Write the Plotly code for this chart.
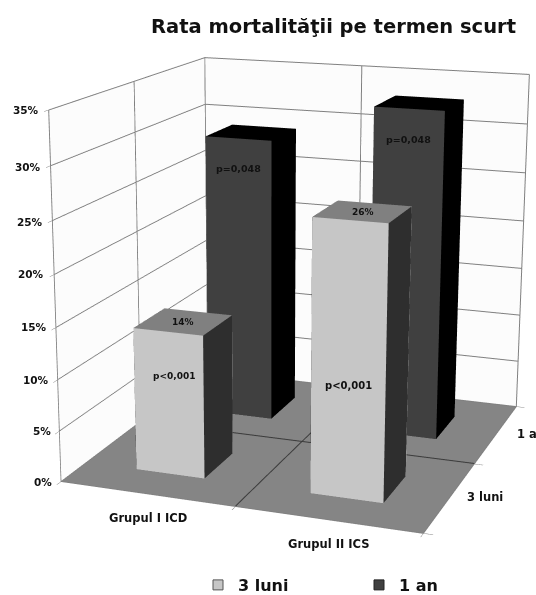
import plotly.graph_objects as go

# Chart content
groups = ["Grupul I ICD", "Grupul II ICS"]
series = ["3 luni", "1 an"]
values_3_luni = [14, 26]
values_1_an = [29, 33]
p_3_luni = ["p<0,001", "p<0,001"]
p_1_an = ["p=0,048", "p=0,048"]
z_ticks = [0, 5, 10, 15, 20, 25, 30, 35]

W, H = 536, 595
FONT = "DejaVu Sans"
INK = "#111111"
GRID = "#808080"
LIGHT = dict(front="#c6c6c6", side="#2e2e2e", top="#808080")
DARK = dict(front="#404040", side="#000000", top="#000000")
BAR_OFFSET = 0.30   # gap between a cell's edge and its column
BAR_SIZE = 0.40
LENS_FOVY = 0.3315  # radians; flatter perspective than the scene's default lens
LEGEND_DROP = 8     # pixels the legend boxes sit below the lowest spot layout allows

# Pixel anchors of the value-axis labels, right-aligned beside the wall edge
Z_LABEL_RIGHT = [54, 53, 51, 49, 46, 45, 43, 41]
Z_LABEL_Y = [482, 431, 380, 327, 274, 222, 167, 110]


def bar_mesh(col, row, value, colors, name):
    """One rectangular column standing on the floor, coloured per face."""
    x0, x1 = col + BAR_OFFSET, col + BAR_OFFSET + BAR_SIZE
    y0, y1 = row + BAR_OFFSET, row + BAR_OFFSET + BAR_SIZE
    xs = [x0, x1, x1, x0, x0, x1, x1, x0]
    ys = [y0, y0, y1, y1, y0, y0, y1, y1]
    zs = [0, 0, 0, 0, value, value, value, value]
    faces = [
        (0, 1, 5, "front"), (0, 5, 4, "front"),
        (1, 2, 6, "side"), (1, 6, 5, "side"),
        (4, 5, 6, "top"), (4, 6, 7, "top"),
        (0, 3, 7, "side"), (0, 7, 4, "side"),
        (3, 2, 6, "front"), (3, 6, 7, "front"),
    ]
    return go.Mesh3d(
        x=xs, y=ys, z=zs,
        i=[f[0] for f in faces], j=[f[1] for f in faces], k=[f[2] for f in faces],
        facecolor=[colors[f[3]] for f in faces],
        flatshading=True,
        lighting=dict(ambient=1, diffuse=0, specular=0, roughness=1, fresnel=0),
        hoverinfo="skip", name=name, showlegend=False,
    )


fig = go.Figure()
for c, v in enumerate(values_1_an):
    fig.add_trace(bar_mesh(c, 1, v, DARK, series[1]))
for c, v in enumerate(values_3_luni):
    fig.add_trace(bar_mesh(c, 0, v, LIGHT, series[0]))

# Dividers between the floor cells
floor_line = dict(color="#3c3c3c", width=2)
fig.add_trace(go.Scatter3d(x=[1, 1], y=[0, 2], z=[0.05, 0.05], mode="lines", line=floor_line,
                           showlegend=False, hoverinfo="skip"))
fig.add_trace(go.Scatter3d(x=[0, 2], y=[1, 1], z=[0.05, 0.05], mode="lines", line=floor_line,
                           showlegend=False, hoverinfo="skip"))

# Legend keys, one legend box per series so the two can sit apart
fig.add_trace(go.Scatter3d(x=[None], y=[None], z=[None], mode="markers", name=series[0], legend="legend",
                           marker=dict(symbol="square", size=10, color=LIGHT["front"], line=dict(color="#555", width=1))))
fig.add_trace(go.Scatter3d(x=[None], y=[None], z=[None], mode="markers", name=series[1], legend="legend2",
                           marker=dict(symbol="square", size=10, color=DARK["front"], line=dict(color="#222", width=1))))


def on_bar(x, y, z, text, size):
    return dict(x=x, y=y, z=z, text=text, showarrow=False,
                font=dict(family=FONT, size=size, color=INK, weight="bold"))


def on_page(px, py, text, size=11.5, xanchor="center"):
    return dict(xref="paper", yref="paper", x=px / W, y=1 - py / H, text=text, showarrow=False,
                xanchor=xanchor, yanchor="middle",
                font=dict(family=FONT, size=size, color=INK, weight="bold"))


bar_notes = []
for c in range(2):
    mid = c + BAR_OFFSET + BAR_SIZE / 2
    bar_notes.append(on_bar(mid, BAR_OFFSET + BAR_SIZE / 2, values_3_luni[c], f"{values_3_luni[c]}%", 9))
    bar_notes.append(on_bar(mid + 0.03 * (1 - c), BAR_OFFSET, 9.8 + c, p_3_luni[c], 9 + c))
    bar_notes.append(on_bar(mid, 1 + BAR_OFFSET, values_1_an[c] - 3, p_1_an[c], 9.5))

page_notes = [
    on_page(148, 518, groups[0]),
    on_page(328, 544, groups[1]),
    on_page(485, 497, series[0]),
    on_page(515, 434, series[1], xanchor="left"),
]
for v, right, y in zip(z_ticks, Z_LABEL_RIGHT, Z_LABEL_Y):
    page_notes.append(on_page(right, y, f"{v}%", size=10.5, xanchor="right"))

legend_font = dict(family=FONT, size=16, color=INK, weight="bold")
axis_common = dict(gridcolor=GRID, showbackground=True, zeroline=False, showline=True, linecolor=GRID,
                   ticks="outside", ticklen=3, tickcolor=GRID, title="", showticklabels=False)

fig.update_layout(
    width=W, height=H, margin=dict(l=0, r=0, t=0, b=0), paper_bgcolor="white",
    annotations=page_notes,
    title=dict(text="Rata mortalităţii pe termen scurt", x=333.5 / W, xanchor="center", y=1 - 26 / H,
               yanchor="middle", font=dict(family=FONT, size=19.5, color=INK, weight="bold")),
    legend=dict(x=198 / W, xanchor="left", y=1 - 594 / H, yanchor="bottom", font=legend_font,
                bgcolor="rgba(0,0,0,0)"),
    legend2=dict(x=359 / W, xanchor="left", y=1 - 594 / H, yanchor="bottom", font=legend_font,
                 bgcolor="rgba(0,0,0,0)"),
    scene=dict(
        domain=dict(x=[0, 1], y=[0, 1]),
        camera=dict(eye=dict(x=1.5717, y=-4.4843, z=1.2403),
                    center=dict(x=-0.0509, y=-0.1394, z=-0.0439),
                    up=dict(x=0, y=0, z=1),
                    projection=dict(type="perspective")),
        aspectmode="manual", aspectratio=dict(x=1.0011, y=1.0292, z=1),
        annotations=bar_notes,
        xaxis=dict(range=[0, 2], tickvals=[0, 1, 2], backgroundcolor="#fcfcfc", **axis_common),
        yaxis=dict(range=[0, 2], tickvals=[0, 1, 2], backgroundcolor="#fcfcfc", **axis_common),
        zaxis=dict(range=[0, 35], tickvals=z_ticks, backgroundcolor="#858585", **axis_common),
    ),
)

# Once the WebGL scene exists: narrower lens, then the legend boxes lowered a little
FINISH = """
(function tune() {
  var gd = document.querySelector('.plotly-graph-div');
  var s = gd && gd._fullLayout && gd._fullLayout.scene && gd._fullLayout.scene._scene;
  if (!s || !s.glplot) { setTimeout(tune, 30); return; }
  s.glplot.fovy = %f;
  s.glplot.redraw();
  gd.querySelectorAll('g.legend, g.legend2').forEach(function (g) {
    g.setAttribute('transform', g.getAttribute('transform') + ' translate(0,%d)');
  });
})();
""" % (LENS_FOVY, LEGEND_DROP)
fig.write_html("out.html", post_script=FINISH)
